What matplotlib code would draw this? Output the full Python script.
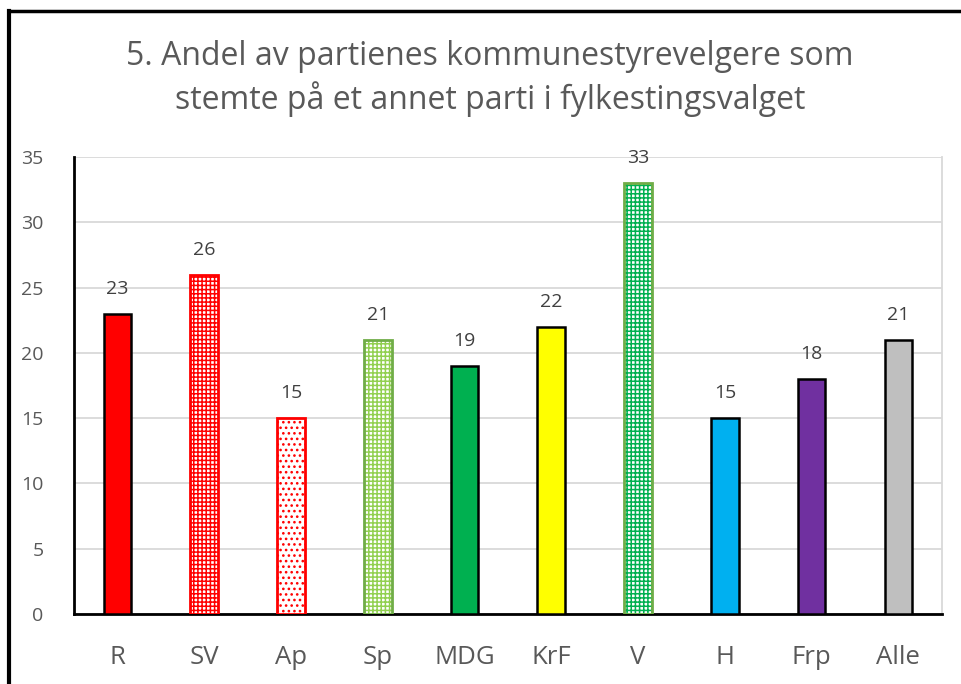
import matplotlib.pyplot as plt
from matplotlib.lines import Line2D
import numpy as np

plt.rcParams['font.family'] = ['Open Sans', 'DejaVu Sans']
plt.rcParams['hatch.linewidth'] = 1.1

partier = ['R', 'SV', 'Ap', 'Sp', 'MDG', 'KrF', 'V', 'H', 'Frp', 'Alle']
andel = [23, 26, 15, 21, 19, 22, 33, 15, 18, 21]

# fyll, kantfarge, skravur
fyll = ['#FF0000', 'white', 'white', 'white', '#00B050', '#FFFF00', 'white', '#00B0F0', '#7030A0', '#BFBFBF']
kant = ['black', '#FF0000', '#FF0000', '#70AD47', 'black', 'black', '#70AD47', 'black', 'black', 'black']
skravur = [None, '++++', '...', '++++', None, None, '++++', None, None, None]
skravur_farge = [None, '#FF0000', '#FF0000', '#92D050', None, None, '#00B050', None, None, None]

fig = plt.figure(figsize=(9.61, 6.84), dpi=100)
ax = fig.add_axes([0.077, 0.1023, 0.903, 0.6682])

x = np.arange(len(partier))
for i in range(len(partier)):
    if skravur[i]:
        ax.bar(x[i], andel[i], width=0.32, color='white', edgecolor=skravur_farge[i],
               hatch=skravur[i], linewidth=0, zorder=3)
        ax.bar(x[i], andel[i], width=0.32, color='none', edgecolor=kant[i],
               linewidth=2, zorder=4)
    else:
        ax.bar(x[i], andel[i], width=0.32, color=fyll[i], edgecolor=kant[i],
               linewidth=1.8, zorder=3)
    ax.text(x[i], andel[i] + 1.2, str(andel[i]), ha='center', va='bottom',
            fontsize=14, color='#404040')

ax.set_xlim(-0.5, len(partier) - 0.5)
ax.set_ylim(0, 35)
ax.set_yticks(range(0, 36, 5))
ax.set_xticks(x)
ax.set_xticklabels(partier)
ax.tick_params(axis='x', length=0, labelsize=18.5, colors='#595959', pad=22)
ax.tick_params(axis='y', length=0, labelsize=14, colors='#595959', pad=22)
ax.grid(axis='y', color='#D9D9D9', linewidth=1.3, zorder=0)
ax.set_axisbelow(True)
ax.spines['left'].set_color('black')
ax.spines['left'].set_linewidth(2)
ax.spines['bottom'].set_color('black')
ax.spines['bottom'].set_linewidth(2)
ax.spines['top'].set_visible(False)
ax.spines['right'].set_color('#D9D9D9')
ax.spines['right'].set_linewidth(1.3)

fig.text(0.51, 0.885, '5. Andel av partienes kommunestyrevelgere som\nstemte på et annet parti i fylkestingsvalget',
         ha='center', va='center', fontsize=23, color='#595959', linespacing=1.3)

# ramme oppe og til venstre
fig.add_artist(Line2D([0.009, 1.0], [0.984, 0.984], color='black', linewidth=2.5))
fig.add_artist(Line2D([0.009, 0.009], [0.0, 0.984], color='black', linewidth=3))

fig.savefig('out.png', dpi=100)
